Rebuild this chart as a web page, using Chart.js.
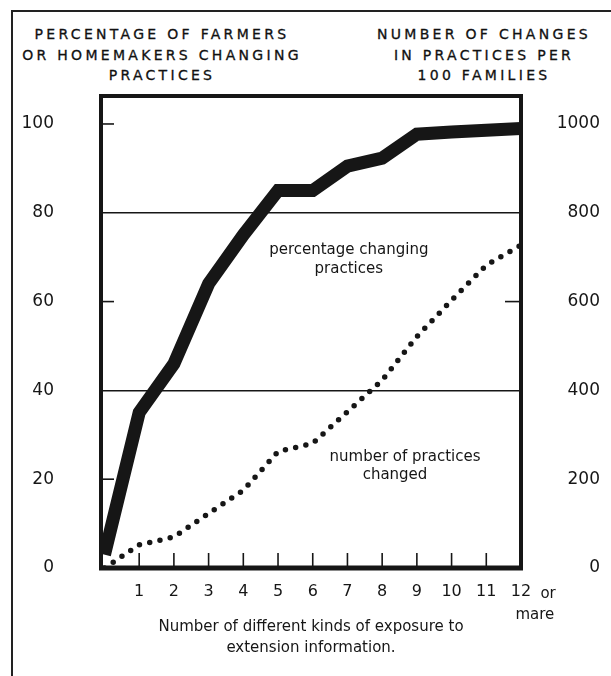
<!DOCTYPE html>
<html>
<head>
<meta charset="utf-8">
<script src="https://cdn.jsdelivr.net/npm/chart.js@4.4.0/dist/chart.umd.min.js"></script>
<style>
  html, body { margin: 0; padding: 0; background: #fff; }
  #page { position: relative; width: 611px; height: 676px; overflow: hidden; }
  #frame { position: absolute; left: 11px; top: 10px; width: 640px; height: 700px;
           border-left: 2px solid #222; border-top: 2px solid #222; }
  .head { position: absolute; top: 24px; width: 320px; text-align: center;
          font-family: 'DejaVu Sans'; font-size: 14px; letter-spacing: 3.3px;
          line-height: 20.5px; color: #111; -webkit-text-stroke: 0.3px #111; }
  #chart { position: absolute; left: 0; top: 0; }
</style>
</head>
<body>
<div id="page">
  <div id="frame"></div>
  <div class="head" style="left: 2px;">PERCENTAGE OF FARMERS<br>OR HOMEMAKERS CHANGING<br>PRACTICES</div>
  <div class="head" style="left: 324px;">NUMBER OF CHANGES<br>IN PRACTICES PER<br>100 FAMILIES</div>
  <canvas id="chart" width="611" height="676"></canvas>
</div>
<script>
// number of kinds of exposure (12 = "12 or more")
const exposures = [0, 1, 2, 3, 4, 5, 6, 7, 8, 9, 10, 11, 12];
const xTickValues = [1, 2, 3, 4, 5, 6, 7, 8, 9, 10, 11, 12];

// percentage of farmers or homemakers changing practices (left axis)
const pctChanging = [3, 35, 46, 64, 75, 85, 85, 90.5, 92.3, 97.7, 98.2, 98.6, 99];
// number of changes in practices per 100 families (right axis)
const practicesChanged = [0, 52, 70, 123, 175, 262, 281, 352, 423, 521, 603, 682, 727];

const leftTicks = [0, 20, 40, 60, 80, 100];
const rightTicks = [0, 200, 400, 600, 800, 1000];
const gridValues = [40, 80];
const leftMinorTicks = [20, 60, 100];
const rightMinorTicks = [600];

// text notes placed in data units (x, left-axis y)
const notes = [
  { text: 'percentage changing', x: 7.04, y: 71.6 },
  { text: 'practices', x: 7.04, y: 67.3 },
  { text: 'number of practices', x: 8.66, y: 25 },
  { text: 'changed', x: 8.37, y: 20.9 },
  { text: 'or', x: 12.78, y: -5.9 },
  { text: 'mare', x: 12.4, y: -10.6 },
];

const ink = '#161616';
const fontFamily = 'DejaVu Sans';

// plot frame, short inner ticks and the text notes
const decorations = {
  id: 'decorations',
  afterDatasetsDraw(chart) {
    const { ctx, chartArea: a, scales } = chart;
    ctx.save();
    ctx.strokeStyle = ink;
    ctx.lineWidth = 1.6;
    leftMinorTicks.forEach((v) => {
      const y = scales.y.getPixelForValue(v);
      ctx.beginPath(); ctx.moveTo(a.left, y); ctx.lineTo(a.left + 13, y); ctx.stroke();
    });
    rightMinorTicks.forEach((v) => {
      const y = scales.y2.getPixelForValue(v);
      ctx.beginPath(); ctx.moveTo(a.right - 16, y); ctx.lineTo(a.right, y); ctx.stroke();
    });
    xTickValues.slice(0, -1).forEach((v) => {
      const x = scales.x.getPixelForValue(v);
      ctx.beginPath(); ctx.moveTo(x, a.bottom); ctx.lineTo(x, a.bottom - 15); ctx.stroke();
    });

    ctx.lineWidth = 4;
    ctx.beginPath();
    ctx.moveTo(a.left, a.bottom);
    ctx.lineTo(a.left, a.top);
    ctx.lineTo(a.right, a.top);
    ctx.lineTo(a.right, a.bottom);
    ctx.stroke();
    ctx.lineWidth = 5;
    ctx.beginPath(); ctx.moveTo(a.left - 2, a.bottom); ctx.lineTo(a.right + 2, a.bottom); ctx.stroke();

    ctx.fillStyle = ink;
    ctx.font = '15px ' + fontFamily;
    ctx.textAlign = 'center';
    ctx.textBaseline = 'middle';
    notes.forEach((n) => {
      ctx.fillText(n.text, scales.x.getPixelForValue(n.x), scales.y.getPixelForValue(n.y));
    });
    ctx.restore();
  },
};

Chart.defaults.font.family = fontFamily;
Chart.defaults.color = ink;

new Chart(document.getElementById('chart'), {
  type: 'line',
  data: {
    datasets: [
      {
        label: 'percentage changing practices',
        data: exposures.map((x, i) => ({ x: x, y: pctChanging[i] })),
        yAxisID: 'y',
        borderColor: ink,
        borderWidth: 13,
        borderJoinStyle: 'miter',
        pointRadius: 0,
        clip: 0,
      },
      {
        label: 'number of practices changed',
        data: exposures.map((x, i) => ({ x: x, y: practicesChanged[i] })),
        yAxisID: 'y2',
        borderColor: ink,
        borderWidth: 5.5,
        borderDash: [0, 10.5],
        borderCapStyle: 'round',
        pointRadius: 0,
        clip: 0,
      },
    ],
  },
  options: {
    responsive: false,
    animation: false,
    layout: { padding: { top: 96, right: 11 } },
    plugins: {
      legend: { display: false },
      tooltip: { enabled: false },
    },
    scales: {
      x: {
        type: 'linear',
        min: -0.1,
        max: 12,
        afterBuildTicks: (s) => { s.ticks = xTickValues.map((v) => ({ value: v })); },
        afterFit: (s) => { s.height = 108; },
        ticks: { padding: 14, font: { size: 16 }, maxRotation: 0, autoSkip: false, callback: (v) => String(v) },
        grid: { display: false, drawTicks: false },
        border: { display: false },
        title: {
          display: true,
          text: ['Number of different kinds of exposure to', 'extension information.'],
          font: { size: 15, lineHeight: 1.4 },
          padding: { bottom: 17 },
        },
      },
      y: {
        position: 'left',
        min: 0,
        max: 106.3,
        afterBuildTicks: (s) => { s.ticks = leftTicks.map((v) => ({ value: v })); },
        afterFit: (s) => { s.width = 101; },
        ticks: { padding: 47, font: { size: 17 }, callback: (v) => String(v) },
        grid: {
          drawTicks: false,
          lineWidth: 1.5,
          color: (c) => (gridValues.includes(c.tick && c.tick.value) ? ink : 'rgba(0,0,0,0)'),
        },
        border: { display: false },
      },
      y2: {
        position: 'right',
        min: 0,
        max: 1063,
        afterBuildTicks: (s) => { s.ticks = rightTicks.map((v) => ({ value: v })); },
        afterFit: (s) => { s.width = 79; },
        ticks: { crossAlign: 'far', font: { size: 17 }, callback: (v) => String(v) },
        grid: { display: false, drawTicks: false },
        border: { display: false },
      },
    },
  },
  plugins: [decorations],
});
</script>
</body>
</html>
